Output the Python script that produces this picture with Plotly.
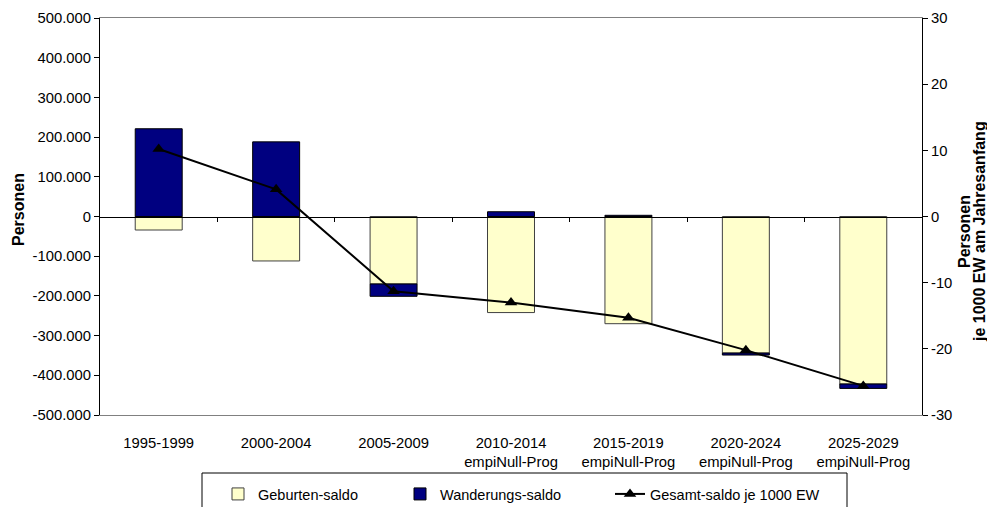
import plotly.graph_objects as go

categories = ["1995-1999", "2000-2004", "2005-2009",
              "2010-2014<br>empiNull-Prog", "2015-2019<br>empiNull-Prog",
              "2020-2024<br>empiNull-Prog", "2025-2029<br>empiNull-Prog"]
geburten_saldo = [-34000, -112000, -170000, -242000, -270000, -344000, -422000]
wanderungs_saldo = [221000, 188000, -31000, 12000, 3000, -5000, -11000]
gesamt_saldo_je_1000 = [10.2, 4.1, -11.3, -13.0, -15.3, -20.2, -25.6]

left_ticks = [-500000, -400000, -300000, -200000, -100000, 0, 100000, 200000, 300000, 400000, 500000]
left_labels = ["-500.000", "-400.000", "-300.000", "-200.000", "-100.000", "0",
               "100.000", "200.000", "300.000", "400.000", "500.000"]
right_ticks = [-30, -20, -10, 0, 10, 20, 30]
right_labels = ["-30", "-20", "-10", "0", "10", "20", "30"]

FONT = "Liberation Sans, Arial, sans-serif"
FS = 14.8
FS_TITLE = 16

# the page body has an 8px margin, so the figure starts at screen (8, 8)
OFF = 8
W, H = 995 - OFF, 507 - OFF
L, R, T, B = 100 - OFF, 995 - 922, 18 - OFF, 507 - 415
PW, PH = W - L - R, H - T - B


def px(sx):
    return (sx - OFF - L) / PW


def py(sy):
    return (H - B - (sy - OFF)) / PH


fig = go.Figure()
fig.add_trace(go.Bar(
    x=categories, y=geburten_saldo, name="Geburten-saldo",
    marker=dict(color="#FFFFCC", line=dict(color="#404040", width=1)),
    legend="legend"))
fig.add_trace(go.Bar(
    x=categories, y=wanderungs_saldo, name="Wanderungs-saldo",
    marker=dict(color="#000080", line=dict(color="#000000", width=1)),
    legend="legend2"))
fig.add_trace(go.Scatter(
    x=categories, y=gesamt_saldo_je_1000, name="Gesamt-saldo je 1000 EW",
    mode="lines+markers", yaxis="y2",
    line=dict(color="#000000", width=2),
    marker=dict(symbol="triangle-up", size=11, color="#000000"),
    legend="legend3"))
# helper trace for the category axis crossing at zero
fig.add_trace(go.Scatter(x=[-0.5, 6.5], y=[0, 0], xaxis="x2", mode="lines",
                         line=dict(width=0), showlegend=False, hoverinfo="skip"))

legend_common = dict(orientation="h", xanchor="left", yanchor="middle",
                     bgcolor="rgba(0,0,0,0)", borderwidth=0,
                     font=dict(family=FONT, size=14.5, color="#000000"))

tf = dict(family=FONT, size=FS, color="#000000")
ttf = dict(family=FONT, size=FS_TITLE, color="#000000")

fig.update_layout(
    width=W, height=H,
    margin=dict(l=L, r=R, t=T, b=B, autoexpand=False),
    paper_bgcolor="white", plot_bgcolor="white",
    barmode="relative", bargap=0.6,
    font=dict(family=FONT, size=FS, color="#000000"),
    xaxis=dict(type="category", showgrid=False, ticks="", showline=True,
               linecolor="#808080", linewidth=1, mirror=True,
               ticklabelstandoff=14, tickfont=tf),
    xaxis2=dict(overlaying="x", anchor="free", position=0.5, range=[-0.5, 6.5],
                showgrid=False, zeroline=False, showline=True, linecolor="#000000",
                linewidth=1, ticks="outside", ticklen=4, tickcolor="#000000",
                tickvals=[0.5, 1.5, 2.5, 3.5, 4.5, 5.5], showticklabels=False),
    yaxis=dict(range=[-500000, 500000], tickvals=left_ticks, ticktext=left_labels,
               showgrid=False, zeroline=False, showline=True, linecolor="#000000",
               linewidth=1, ticks="outside", ticklen=5, tickcolor="#000000",
               tickfont=tf),
    yaxis2=dict(range=[-30, 30], tickvals=right_ticks, ticktext=right_labels,
                overlaying="y", side="right",
                showgrid=False, zeroline=False, showline=True, linecolor="#000000",
                linewidth=1, ticks="outside", ticklen=5, tickcolor="#000000",
                tickfont=tf),
    legend=dict(x=px(218), y=py(494), **legend_common),
    legend2=dict(x=px(400), y=py(494), **legend_common),
    legend3=dict(x=px(610), y=py(494), **legend_common),
    shapes=[dict(type="rect", xref="paper", yref="paper",
                 x0=px(202), x1=px(847), y0=py(473), y1=py(525),
                 line=dict(color="#000000", width=1), fillcolor="rgba(0,0,0,0)")],
    annotations=[
        dict(text="<b>Personen</b>", xref="paper", yref="paper",
             x=px(18), y=py(210), xanchor="center", yanchor="middle",
             textangle=-90, showarrow=False, font=ttf),
        dict(text="<b>Personen</b>", xref="paper", yref="paper",
             x=px(964), y=py(232), xanchor="center", yanchor="middle",
             textangle=-90, showarrow=False, font=ttf),
        dict(text="<b>je 1000 EW am Jahresanfang</b>", xref="paper", yref="paper",
             x=px(979), y=py(232), xanchor="center", yanchor="middle",
             textangle=-90, showarrow=False, font=ttf),
    ],
)

fig.write_html("out.html")
